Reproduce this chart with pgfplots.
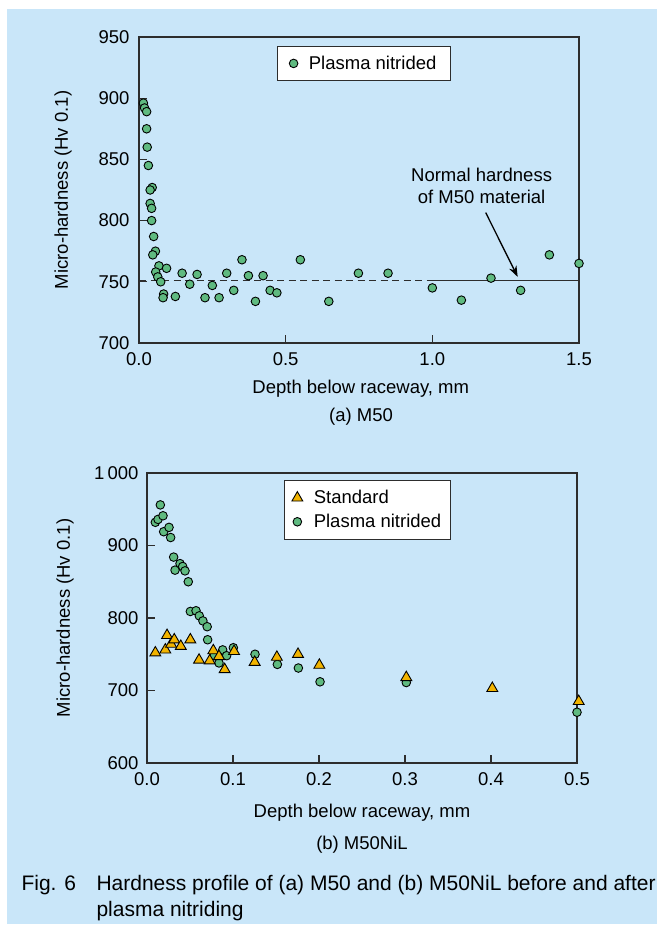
\documentclass[border=0pt]{standalone}
\usepackage{fontspec}
\setmainfont{Liberation Sans}
\usepackage{pgfplots}
\pgfplotsset{compat=1.18}
\usetikzlibrary{arrows.meta}
\definecolor{bgblue}{RGB}{201,230,249}
\definecolor{nitgreen}{RGB}{95,186,128}
\definecolor{stdorange}{RGB}{242,180,0}
\definecolor{axisgray}{RGB}{45,45,45}

\newcommand{\lbl}{\fontsize{18.5bp}{22bp}\selectfont}

\pgfplotsset{
  hardness/.style={
    scale only axis, anchor=south west, clip=false,
    axis line style={axisgray, line width=1.3bp},
    tick style={axisgray, line width=1.1bp},
    major tick length=8bp,
    tick align=inside,
    xtick pos=bottom, ytick pos=left,
    /pgf/number format/assume math mode=true,
    tick label style={font=\lbl},
    label style={font=\lbl},
    xticklabel style={yshift=-6bp},
    yticklabel style={xshift=-6bp},
    legend cell align=left,
    legend style={draw=axisgray, line width=1bp, fill=white, font=\lbl,
      inner xsep=7.5bp, inner ysep=8bp, row sep=5bp,
      /tikz/every odd column/.append style={column sep=9bp}},
  },
  nit/.style={only marks, mark=*, mark size=4.3bp,
    mark options={fill=nitgreen, draw=black, line width=0.9bp}},
  std/.style={only marks, mark=triangle*, mark size=6.3bp,
    mark options={fill=stdorange, draw=black, line width=0.9bp}},
}

\begin{document}
\begin{tikzpicture}[x=1bp, y=1bp]
\fill[white] (0,0) rectangle (664,931);
\fill[bgblue] (7,7) rectangle (657,922);

% (a) M50
\begin{axis}[hardness,
  at={(139bp,588bp)}, width=440bp, height=306bp,
  xmin=0, xmax=1.5, ymin=700, ymax=950,
  xtick={0,0.5,1,1.5}, xticklabels={0.0,0.5,1.0,1.5},
  ytick={700,750,...,950},
  xlabel={Depth below raceway, mm},
  ylabel={Micro-hardness (Hv 0.1)},
  xlabel style={at={(axis description cs:0.504,-0.150)}, anchor=center},
  ylabel style={at={(axis description cs:-0.1727,0.5)}, anchor=center},
  legend style={at={(0.511,0.9706)}, anchor=north, inner xsep=12bp, inner ysep=7.5bp},
]
\addplot[axisgray, line width=1.1bp, dash pattern=on 7bp off 4.5bp, forget plot]
  coordinates {(0,751) (1.0,751)};
\addplot[axisgray, line width=1.1bp, forget plot]
  coordinates {(1.0,751) (1.5,751)};
\addplot[nit] coordinates {
  (0.015,896) (0.019,892) (0.026,889) (0.026,875) (0.028,860)
  (0.032,845) (0.045,827) (0.038,825) (0.038,814) (0.043,810)
  (0.043,800) (0.050,787) (0.056,775) (0.047,772) (0.068,763)
  (0.094,761) (0.057,758) (0.064,754) (0.074,750) (0.084,740)
  (0.082,737) (0.124,738) (0.147,757) (0.173,748) (0.198,756)
  (0.225,737) (0.250,747) (0.273,737) (0.299,757) (0.323,743)
  (0.351,768) (0.373,755) (0.397,734) (0.423,755) (0.447,743)
  (0.470,741) (0.550,768) (0.647,734) (0.748,757) (0.849,757)
  (1.000,745) (1.099,735) (1.200,753) (1.301,743) (1.399,772)
  (1.500,765)
};
\addlegendentry{Plasma nitrided}
\node[font=\lbl, align=center] at (axis cs:1.168,828) {Normal hardness\\of M50 material};
\draw[-{Stealth[length=11bp,width=8bp]}, line width=1.3bp]
  (axis cs:1.182,806.5) -- (axis cs:1.291,754);
\end{axis}
\node[font=\lbl] at (361,514) {(a) M50};

% (b) M50NiL
\begin{axis}[hardness,
  at={(147bp,168bp)}, width=430bp, height=290bp,
  xmin=0, xmax=0.5, ymin=600, ymax=1000,
  xtick={0,0.1,...,0.5}, xticklabels={0.0,0.1,0.2,0.3,0.4,0.5},
  ytick={600,700,800,900,1000}, yticklabels={600,700,800,900,1\,000},
  yticklabel style={xshift=1bp},
  xlabel={Depth below raceway, mm},
  ylabel={Micro-hardness (Hv 0.1)},
  xlabel style={at={(axis description cs:0.5,-0.172)}, anchor=center},
  ylabel style={at={(axis description cs:-0.1907,0.5)}, anchor=center},
  legend style={at={(0.513,0.976)}, anchor=north},
  reverse legend,
]
\addplot[nit] coordinates {
  (0.0097,932) (0.0128,936) (0.0155,956) (0.0186,941) (0.0194,919)
  (0.0256,925) (0.0275,911) (0.0310,884) (0.0326,866) (0.0384,875)
  (0.0415,871) (0.0442,865) (0.0480,850) (0.0504,809) (0.0570,810)
  (0.0608,803) (0.0650,796) (0.0700,788) (0.0705,770) (0.0780,748)
  (0.0837,738) (0.0880,756) (0.0926,748) (0.1004,759) (0.1256,750)
  (0.1516,736) (0.1760,731) (0.2012,712) (0.3015,711) (0.5000,670)
};
\addlegendentry{Plasma nitrided}
\addplot[std] coordinates {
  (0.0097,752) (0.0213,756) (0.0233,776) (0.0280,764) (0.0317,770)
  (0.0393,761) (0.0504,770) (0.0605,742) (0.0729,741) (0.0771,755)
  (0.0837,747) (0.0903,729) (0.1012,754) (0.1252,739) (0.1510,746)
  (0.1756,750) (0.2004,735) (0.3015,718) (0.4015,703) (0.5020,685)
};
\addlegendentry{Standard}
\end{axis}
\node[font=\lbl] at (362,86) {(b) M50NiL};

% caption
\node[font=\fontsize{21bp}{27bp}\selectfont, anchor=base west] at (18,40) {Fig. 6};
\node[font=\fontsize{21bp}{27bp}\selectfont, anchor=base west] at (93,40)
  {Hardness profile of (a) M50 and (b) M50NiL before and after};
\node[font=\fontsize{21bp}{27bp}\selectfont, anchor=base west] at (93,14)
  {plasma nitriding};
\end{tikzpicture}
\end{document}
